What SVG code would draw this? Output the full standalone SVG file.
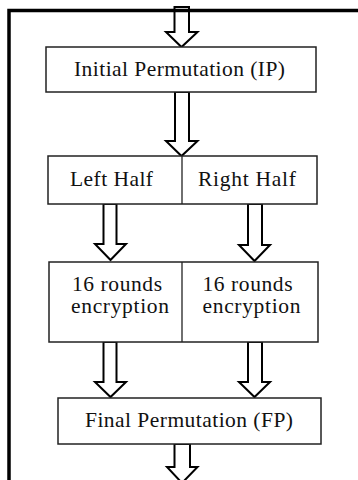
<svg xmlns="http://www.w3.org/2000/svg" width="358" height="480" viewBox="0 0 358 480">
<style>
.box{fill:#fff;stroke:#222;stroke-width:1.5}
.div{stroke:#222;stroke-width:1.3}
.arr{fill:#fff;stroke:#000;stroke-width:2;stroke-linejoin:miter}
.t{font-family:"Liberation Serif","Times New Roman",serif;font-size:21.5px;fill:#111}
.frame{fill:none;stroke:#000;stroke-width:3.5}
</style>
<rect width="358" height="480" fill="#fff"/>
<g id="connectors">
<polygon class="arr" points="174.5,7 189,7 189,32 197.5,32 181.5,47 166,32 174.5,32"/>
<polygon class="arr" points="175,92 189,92 189,141 197.5,141 181.5,156 166,141 175,141"/>
<polygon class="arr" points="103.5,204 116.5,204 116.5,244 126,244 110.5,260 95,244 103.5,244"/>
<polygon class="arr" points="248,204 262,204 262,245 270,245 254.5,261 239,245 248,245"/>
<polygon class="arr" points="103.5,342 116.5,342 116.5,382 126,382 110.5,397 95,382 103.5,382"/>
<polygon class="arr" points="248,342 262,342 262,382 270,382 254.5,397 239,382 248,382"/>
<polygon class="arr" points="174.5,444 190,444 190,467 197.5,467 182,483 167,467 174.5,467"/>
</g>
<path id="frame" class="frame" d="M9,482 V10.5 H360"/>
<g id="ip">
<rect class="box" x="46" y="47" width="270" height="45"/>
<text class="t" x="74" y="76" textLength="211" lengthAdjust="spacing">Initial Permutation (IP)</text>
</g>
<g id="halves">
<rect class="box" x="48" y="156" width="269" height="48"/>
<line class="div" x1="182" y1="156" x2="182" y2="204"/>
<text class="t" x="70" y="186" textLength="83" lengthAdjust="spacing">Left Half</text>
<text class="t" x="198" y="186" textLength="98" lengthAdjust="spacing">Right Half</text>
</g>
<g id="rounds">
<rect class="box" x="49" y="262" width="269" height="80"/>
<line class="div" x1="182" y1="262" x2="182" y2="342"/>
<text class="t" x="72" y="290.5" textLength="90" lengthAdjust="spacing">16 rounds</text>
<text class="t" x="71" y="312.5" textLength="98" lengthAdjust="spacing">encryption</text>
<text class="t" x="202.5" y="290.5" textLength="90" lengthAdjust="spacing">16 rounds</text>
<text class="t" x="202.5" y="312.5" textLength="98" lengthAdjust="spacing">encryption</text>
</g>
<g id="fp">
<rect class="box" x="58" y="398" width="263" height="46"/>
<text class="t" x="85" y="427" textLength="208" lengthAdjust="spacing">Final Permutation (FP)</text>
</g>
</svg>
